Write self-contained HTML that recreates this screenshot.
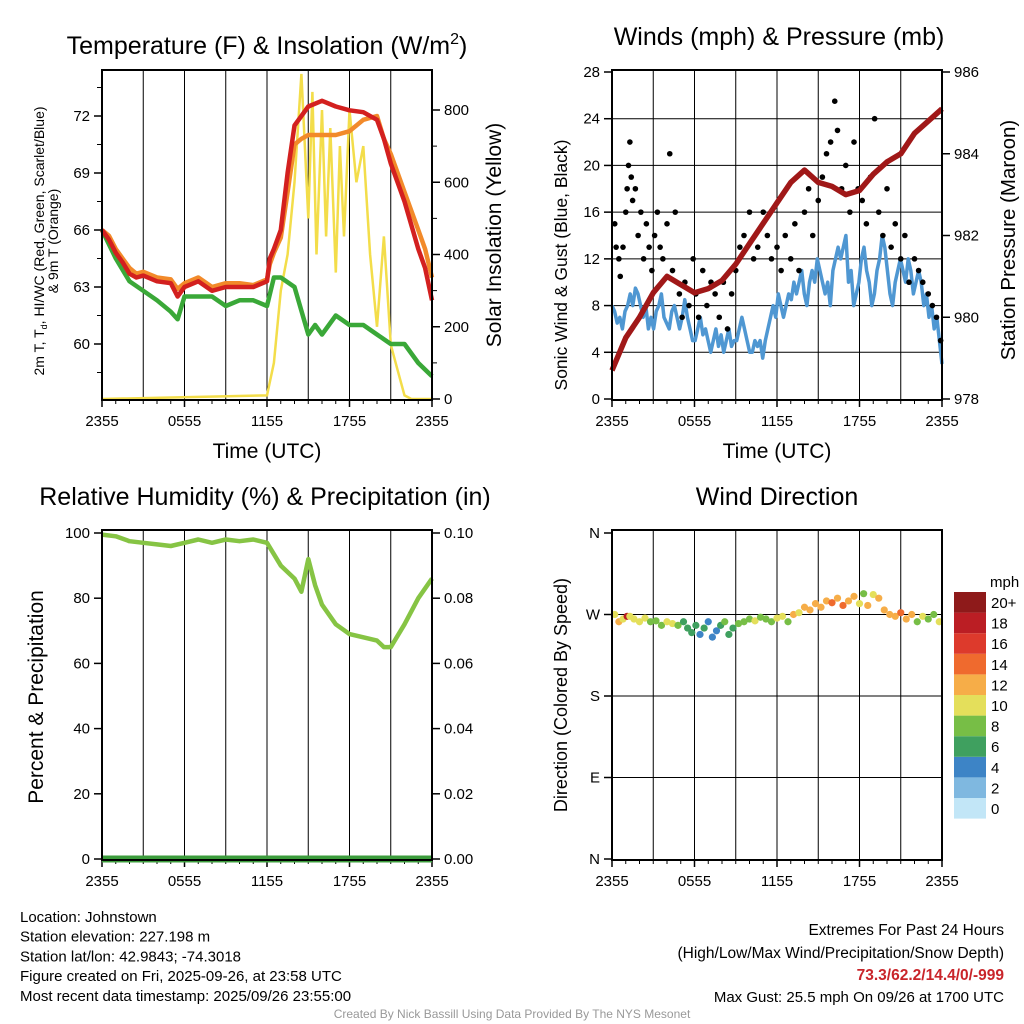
<!DOCTYPE html>
<html><head><meta charset="utf-8"><style>
body{margin:0;background:#fff}
svg{display:block;font-family:"Liberation Sans",sans-serif}
</style></head><body>
<svg id="s" width="1024" height="1024" viewBox="0 0 1024 1024" xmlns="http://www.w3.org/2000/svg"></svg>
<script>
// ---- data ----
const tempT=[0,0.5,1,1.5,2,2.5,3,4,5,5.5,6,7,8,9,10,11,12,12.2,12.5,13,13.5,14,14.5,15,16,17,18,19,20,20.5,21,22,23,23.5,24];
const tempRed=[66,65.5,64.8,64.3,63.7,63.5,63.6,63.3,63.2,62.5,63,63.3,62.8,63,63,63,63.3,64.5,65,66,69,71.5,72,72.5,72.8,72.5,72.3,72.2,71.8,70.8,69.5,67.5,65,64,62.3];
const tempOrange=[66,65.7,65,64.5,64,63.7,63.8,63.5,63.4,62.9,63.2,63.5,63,63.2,63.2,63.1,63.4,64.2,64.8,65.6,68,70.5,70.8,71,71,71,71.2,71.8,72,70.8,70,68,66,65,63.5];
const dewT=[0,1,2,3,4,5,5.5,6,7,8,9,10,11,12,12.5,13,14,15,15.5,16,17,18,19,20,21,22,23,24];
const dewPt=[66,64.5,63.3,62.8,62.3,61.7,61.3,62.5,62.5,62.5,62,62.3,62.3,62,63.5,63.5,63,60.5,61,60.5,61.5,61,61,60.5,60,60,59,58.3];
const solT=[0,12,12.5,13,13.5,14,14.5,15,15.3,15.6,16,16.3,16.6,17,17.3,17.6,18,18.5,19,19.5,20,20.5,21,21.5,22,22.5,24];
const solVal=[0,10,100,300,400,600,900,500,850,400,800,450,750,350,700,450,800,600,700,400,200,450,150,80,10,0,0];
const windSpd=[8,7.5,6.5,7,6,7.5,8,9,8,9.5,9,8,7,8,6,7,6,7.5,8,9,7,6.5,6,7.5,8,7,6,7,8.5,7,6,5,5,6,7,5.5,6,5,4,5,6,4.5,5.5,4,5,6,4.5,5,5,6,7,6,5,4,4,5,4.5,5,3.5,5,6,7,8,7,9,8,7,8,9,8.5,10,9,10,11,9,8,10,11,10,12,11,10,9,10,8,11,12,13,12,13,14,10,11,8,9,10,12,13,11,10,8,9,11,12,14,13,11,9,8,10,11,12,11,10,12,11,9,10,11,10,8,9,7,8,6,7,5,3];
const gustT=[0.2,0.3,0.5,0.6,0.8,1,1.1,1.2,1.3,1.4,1.5,1.7,1.9,2.1,2.3,2.5,2.7,2.9,3.1,3.3,3.5,3.7,4,4.2,4.4,4.6,4.9,5.1,5.3,5.6,5.9,6.1,6.3,6.6,6.9,7.2,7.5,7.8,8.1,8.4,8.7,9,9.3,9.6,10,10.3,10.6,11,11.3,11.6,12,12.3,12.6,13,13.3,13.6,14,14.3,14.6,15,15.3,15.6,15.9,16.2,16.4,16.7,17,17.3,17.6,17.9,18.2,18.5,18.8,19.1,19.4,19.7,20,20.3,20.6,21,21.3,21.6,22,22.3,22.6,23,23.3,23.6,23.9];
const gustVal=[15,13,12,10.5,13,16,18,20,22,19,17,18,14,16,12,15,13,11,14,16,13,12,15,21,11,16,9,7,10,8,12,9,7,11,8,10,9,7,10,6,9,11,13,14,16,12,13,16,14,12,13,11,14,12,15,11,16,18,14,17,19,21,22,25.5,23,18,20,16,22,18,17,15,19,24,16,14,18,13,15,12,14,10,12,11,10,9,8,7,5];
const presT=[0,1,2,3,4,5,6,7,8,9,10,11,12,13,14,15,16,17,18,19,20,21,22,23,24];
const presVal=[978.7,979.5,980,980.6,981,980.8,980.6,980.7,980.9,981.3,981.8,982.3,982.8,983.3,983.6,983.3,983.2,983,983.1,983.5,983.8,984,984.5,984.8,985.1];
const rhT=[0,1,2,3,4,5,6,7,8,9,10,11,12,13,14,14.5,15,15.5,16,17,18,19,20,20.5,21,22,23,24];
const rhVal=[99.5,99,97.5,97,96.5,96,97,98,97,98,97.5,98,97,90,86,82,92,84,78,72,69,68,67,65,65,72,80,86];
const dirT=[0.2,0.5,0.8,1.1,1.3,1.6,2,2.4,2.8,3.2,3.6,4,4.4,4.8,5.2,5.5,5.8,6.1,6.4,6.7,7,7.3,7.6,7.9,8.2,8.5,8.8,9.2,9.6,10,10.4,10.8,11.2,11.6,12,12.4,12.8,13.2,13.6,14,14.4,14.8,15.2,15.6,16,16.4,16.8,17.2,17.6,18,18.3,18.6,19,19.4,19.8,20.2,20.6,21,21.4,21.8,22.2,22.6,23,23.4,23.8];
const dirVal=[270,262,265,268,268,265,262,266,262,263,258,262,260,258,262,255,250,258,248,255,262,245,252,258,262,248,255,260,262,265,263,267,265,262,266,268,262,270,272,278,275,282,278,285,283,288,280,285,290,282,293,280,292,288,275,270,268,272,265,270,262,268,265,270,262];
const dirSpd=[10,11,9,17,10,9,9,10,7,8,7,9,10,8,5,5,6,5,4,5,4,3,4,6,7,5,6,7,8,8,9,7,8,8,10,9,8,11,10,11,12,12,11,12,13,12,14,12,11,10,8,11,9,12,11,12,12,13,12,11,8,9,8,7,9];
const cbLabels=["0","2","4","6","8","10","12","14","16","18","20+"];
const cbColors=["#c2e6f7","#7fb8e0","#3d84c6","#3fa05f","#77be46","#e4df5b","#f6ad48","#ef6a2e","#dd3a2c","#bb1e24","#8e1a1a"];
const xTickLabels=["2355","0555","1155","1755","2355"];

const S=document.getElementById('s');const NS='http://www.w3.org/2000/svg';
function mk(tag,a,p){const e=document.createElementNS(NS,tag);for(const k in a)e.setAttribute(k,a[k]);(p||S).appendChild(e);return e;}
function txt(s,a,p){const e=mk('text',a,p);e.textContent=s;return e;}
function panel(x0,y0,name){const g=mk('g',{});
 return {g,x0,y0,w:330,h:330,X:t=>x0+t/24*330};}
function lin(v0,v1,p0,p1){return v=>p0+(v-v0)/(v1-v0)*(p1-p0);}
function path(ts,vs,X,Y){return ts.map((t,i)=>(i?'L':'M')+X(t).toFixed(1)+','+Y(vs[i]).toFixed(1)).join('');}
function frame(P,hgrid){
 for(let i=1;i<8;i++){const l=mk('line',{x1:P.X(i*3),x2:P.X(i*3),y1:P.y0,y2:P.y0+330,stroke:'#000','stroke-width':1},P.g);}
 (hgrid||[]).forEach(y=>{const l=mk('line',{x1:P.x0,x2:P.x0+330,y1:y,y2:y,stroke:'#000','stroke-width':1},P.g);});
 xTickLabels.forEach((s,i)=>{const x=P.X(i*6);mk('line',{x1:x,x2:x,y1:P.y0+330,y2:P.y0+337,stroke:'#000','stroke-width':1.5},P.g);
  const t=txt(s,{x:x,y:P.y0+356,'font-size':15,'text-anchor':'middle'},P.g);});
 for(let i=0;i<=24;i++){if(i%6)mk('line',{x1:P.X(i),x2:P.X(i),y1:P.y0+330,y2:P.y0+334,stroke:'#000'},P.g);}
}
function box(P){const r=mk('rect',{x:P.x0,y:P.y0,width:330,height:330,fill:'none',stroke:'#000','stroke-width':2},P.g);}
function yAxis(P,vals,labels,Y,right){vals.forEach((v,i)=>{const y=Y(v);const x=right?P.x0+330:P.x0;const d=right?1:-1;
 mk('line',{x1:x,x2:x+d*8,y1:y,y2:y,stroke:'#000','stroke-width':1.5},P.g);
 const t=txt(labels[i],{x:x+d*12,y:y+5,'font-size':15,'text-anchor':right?'start':'end'},P.g);});}
function vlabel(s,x,y,fs,name){const t=txt(s,{x:x,y:y,'font-size':fs,'text-anchor':'middle',transform:`rotate(-90 ${x} ${y})`});return t;}
function title(s,x,y,name){const t=txt(s,{x:x,y:y,'font-size':25,'text-anchor':'middle'});return t;}

// ---- Panel 1 temperature ----
{const P=panel(102,70,'temperature-panel');const Y=lin(60,72,344,116);const Ys=lin(0,800,399,110);
 frame(P,[]);
 yAxis(P,[60,63,66,69,72],["60","63","66","69","72"],Y,false);
 [58.5,61.5,64.5,67.5,70.5,73.5].forEach(v=>mk('line',{x1:102,x2:97,y1:Y(v),y2:Y(v),stroke:'#000'},P.g));
 yAxis(P,[0,200,400,600,800],["0","200","400","600","800"],Ys,true);
 [100,300,500,700].forEach(v=>mk('line',{x1:432,x2:437,y1:Ys(v),y2:Ys(v),stroke:'#000'},P.g));
 let p=mk('path',{d:path(solT,solVal,P.X,Ys),fill:'none',stroke:'#f3dd4a','stroke-width':2.5},P.g);
 p=mk('path',{d:path(dewT,dewPt,P.X,Y),fill:'none',stroke:'#3aa838','stroke-width':4.5,'stroke-linejoin':'round'},P.g);
 p=mk('path',{d:path(tempT,tempOrange,P.X,Y),fill:'none',stroke:'#f28a2a','stroke-width':4.5,'stroke-linejoin':'round'},P.g);
 p=mk('path',{d:path(tempT,tempRed,P.X,Y),fill:'none',stroke:'#d3201f','stroke-width':4.5,'stroke-linejoin':'round'},P.g);
 box(P);
 const t=title('',267,54,'temperature-title');t.innerHTML='Temperature (F) &amp; Insolation (W/m<tspan dy="-10" font-size="16">2</tspan><tspan dy="10">)</tspan>';
 const yl=txt('',{x:44,y:241,'font-size':14,'text-anchor':'middle',transform:'rotate(-90 44 241)'});
 yl.innerHTML='2m T, T<tspan font-size="9" dy="3">d</tspan><tspan dy="-3">, HI/WC (Red, Green, Scarlet/Blue)</tspan>';
 const yl2=txt('& 9m T (Orange)',{x:58,y:241,'font-size':14,'text-anchor':'middle',transform:'rotate(-90 58 241)'});
 vlabel('Solar Insolation (Yellow)',501,235,21,'insolation-y-title');
 const xt=txt('Time (UTC)',{x:267,y:458,'font-size':21,'text-anchor':'middle'});
}
// ---- Panel 2 winds ----
{const P=panel(612,70,'winds-panel');const Y=lin(0,28,399,72);const Yp=lin(978,986,399,72);
 frame(P,[4,8,12,16,20,24].map(Y));
 yAxis(P,[0,4,8,12,16,20,24,28],["0","4","8","12","16","20","24","28"],Y,false);
 yAxis(P,[978,980,982,984,986],["978","980","982","984","986"],Yp,true);
 const windT=windSpd.map((v,i)=>i*24/(windSpd.length-1));
 let p=mk('path',{d:path(windT,windSpd,P.X,Y),fill:'none',stroke:'#4f97d2','stroke-width':3.5,'stroke-linejoin':'round'},P.g);
 gustT.forEach((t,i)=>{const c=mk('circle',{cx:P.X(t),cy:Y(gustVal[i]),r:2.8,fill:'#000'},P.g);});
 p=mk('path',{d:path(presT,presVal,P.X,Yp),fill:'none',stroke:'#a01818','stroke-width':5.5,'stroke-linejoin':'round'},P.g);
 box(P);
 title('Winds (mph) & Pressure (mb)',779,45,'winds-title');
 vlabel('Sonic Wind & Gust (Blue, Black)',567,265,17.5,'wind-y-title');
 vlabel('Station Pressure (Maroon)',1015,240,20.5,'pressure-y-title');
 const xt=txt('Time (UTC)',{x:777,y:458,'font-size':21,'text-anchor':'middle'});
}
// ---- Panel 3 RH ----
{const P=panel(102,530,'humidity-panel');const Y=lin(0,100,859,533);const Yr=lin(0,0.1,859,533);
 frame(P,[]);
 yAxis(P,[0,20,40,60,80,100],["0","20","40","60","80","100"],Y,false);
 yAxis(P,[0,0.02,0.04,0.06,0.08,0.1],["0.00","0.02","0.04","0.06","0.08","0.10"],Yr,true);
 let p=mk('path',{d:path(rhT,rhVal,P.X,Y),fill:'none',stroke:'#86c444','stroke-width':4.5,'stroke-linejoin':'round'},P.g);
 p=mk('line',{x1:102,x2:432,y1:859,y2:859,stroke:'#3c9c3c','stroke-width':7},P.g);
 box(P);
 title('Relative Humidity (%) & Precipitation (in)',265,505,'humidity-title');
 vlabel('Percent & Precipitation',43,697,21,'humidity-y-title');
}
// ---- Panel 4 direction ----
{const P=panel(612,530,'wind-direction-panel');const Y=lin(0,360,859,533);
 frame(P,[90,180,270].map(Y));
 yAxis(P,[0,90,180,270,360],["N","E","S","W","N"],Y,false);
 dirT.forEach((t,i)=>{const ci=Math.min(10,Math.round(dirSpd[i]/2));const c=mk('circle',{cx:P.X(t),cy:Y(dirVal[i]),r:3.6,fill:cbColors[ci]},P.g);});
 box(P);
 title('Wind Direction',777,505,'direction-title');
 vlabel('Direction (Colored By Speed)',567,695,18,'direction-y-title');
 const cb=mk('g',{});
 cbLabels.forEach((l,i)=>{const y=798-i*20.6;mk('rect',{x:954,y:y,width:32,height:20.6,fill:cbColors[i]},cb);
  const t=txt(l,{x:991,y:y+16,'font-size':15},cb);});
 const m=txt('mph',{x:990,y:587,'font-size':15},cb);
}
// ---- footer ----
["Location: Johnstown","Station elevation: 227.198 m","Station lat/lon: 42.9843; -74.3018","Figure created on Fri, 2025-09-26, at 23:58 UTC","Most recent data timestamp: 2025/09/26 23:55:00"].forEach((s,i)=>{const t=txt(s,{x:20,y:922+i*19.7,'font-size':15});});
let f=txt('Extremes For Past 24 Hours',{x:1004,y:935,'font-size':15.5,'text-anchor':'end'});
f=txt('(High/Low/Max Wind/Precipitation/Snow Depth)',{x:1004,y:958,'font-size':15.5,'text-anchor':'end'});
f=txt('73.3/62.2/14.4/0/-999',{x:1004,y:980,'font-size':15.5,'text-anchor':'end','font-weight':'bold',fill:'#c9252a'});
f=txt('Max Gust: 25.5 mph On 09/26 at 1700 UTC',{x:1004,y:1002,'font-size':15,'text-anchor':'end'});
f=txt('Created By Nick Bassill Using Data Provided By The NYS Mesonet',{x:512,y:1018,'font-size':12,'text-anchor':'middle',fill:'#999'});
</script>
</body></html>
